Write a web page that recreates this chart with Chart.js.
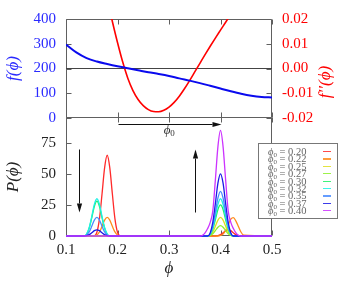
<!DOCTYPE html>
<html>
<head>
<meta charset="utf-8">
<script src="https://cdn.jsdelivr.net/npm/chart.js@4.4.1/dist/chart.umd.min.js"></script>
<style>
html,body{margin:0;padding:0;background:#fff;}
#wrap{position:relative;width:338px;height:281px;overflow:hidden;background:#fff;}
#wrap canvas{position:absolute;left:0;top:0;}
#y2title{position:absolute;left:325px;top:82px;transform:translate(-50%,-50%) rotate(-90deg);font:italic 17px 'Liberation Serif','DejaVu Serif',serif;color:#ff0000;white-space:nowrap;z-index:3;}
#legend{position:absolute;left:258px;top:143px;width:80px;height:76px;box-sizing:border-box;border:1px solid #777;background:#fff;z-index:3;padding-top:4px;}
.lrow{position:relative;height:7.4px;}
.lt{position:absolute;left:9px;top:0;font:10.5px 'Liberation Serif','DejaVu Serif',serif;line-height:7.4px;color:#666;white-space:nowrap;}
.lt i{font-style:italic;}
.lt sub{font-size:7px;vertical-align:-1.5px;line-height:0;}
.ls{position:absolute;left:64px;top:3px;width:8px;height:1.2px;opacity:0.85;}
</style>
</head>
<body>
<div id="wrap">
<canvas id="top" width="338" height="281"></canvas>
<canvas id="bot" width="338" height="281"></canvas>
<div id="y2title">f′′(ϕ)</div>
<div id="legend"></div>
</div>
<script>
// ---------- data: top panel ----------
const phiF = [0.10,0.12,0.14,0.16,0.18,0.20,0.22,0.24,0.26,0.28,0.30,0.32,0.34,0.36,0.38,0.40,0.42,0.44,0.46,0.48,0.50];
const fValues = [297,265,242,228,218,209,201,193,185,178,170,160,151,141,130,119,108,98,90,85,83];
const phiF2 = [0.185,0.19,0.20,0.21,0.22,0.23,0.24,0.25,0.26,0.27,0.28,0.29,0.30,0.31,0.32,0.33,0.34,0.35,0.36,0.37,0.38,0.39,0.40,0.41,0.42];
const f2Values = [0.0235,0.0190,0.0105,0.0027,-0.0039,-0.0089,-0.0125,-0.0150,-0.0166,-0.0174,-0.0175,-0.0169,-0.0156,-0.0137,-0.0112,-0.0082,-0.0049,-0.0014,0.0021,0.0056,0.0090,0.0123,0.0155,0.0187,0.0219];
const zeroPhi = [0.1,0.5];
const zeroLevel = [0,0];
const fTicks = [0,100,200,300,400];
const f2Ticks = [-0.02,-0.01,0,0.01,0.02];
const xTicks = [0.1,0.2,0.3,0.4,0.5];

// ---------- data: bottom panel ----------
const phiP = [0.10,0.135,0.14,0.145,0.15,0.155,0.16,0.165,0.17,0.175,0.18,0.185,0.19,0.195,0.20,0.205,
              0.355,0.36,0.365,0.37,0.375,0.38,0.385,0.39,0.395,0.40,0.405,0.41,0.415,0.42,0.425,0.43,0.435,0.44,0.445,0.50];
const p020 = [0,0,0,0,0,0,3,14,34,55,65,55,34,14,3,0, 0,0,0,0,0,0,0,0,0.3,1.1,2.6,4.3,5,4.3,2.6,1.1,0.3,0,0,0];
const p022 = [0,0,0,0,0,0,0.8,3.3,7.8,12.8,15,12.8,7.8,3.3,0.8,0, 0,0,0,0,0,0,0,0,0,0.4,1.5,4.5,9,13.5,14.8,12,7.5,3,0.7,0];
const p025 = [0,0,0,0,0,0,0,0,0,0,0,0,0,0,0,0, 0,0,0,0,0,0.8,3.3,7.8,12.8,15,12.8,7.8,3.3,0.8,0,0,0,0,0,0];
const p027 = [0,0,0,0,0,0,0,0,0,0,0,0,0,0,0,0, 0,0,0,0,0,0.4,1.8,4.3,7.1,8.3,7.1,4.3,1.8,0.4,0,0,0,0,0,0];
const p030 = [0,0,1.4,6.2,14.6,23.8,28,23.8,14.6,6.2,1.4,0,0,0,0,0, 0,0,0,0,0,1.3,5.5,13,21.3,25,21.3,13,5.5,1.3,0,0,0,0,0,0];
const p032 = [0,0,1.5,6.6,15.6,25.5,30,25.5,15.6,6.6,1.5,0,0,0,0,0, 0,0,0,0,0,1.5,6.6,15.6,25.5,30,25.5,15.6,6.6,1.5,0,0,0,0,0,0];
const p035 = [0,0,0.8,3.3,7.8,12.8,15,12.8,7.8,3.3,0.8,0,0,0,0,0, 0,0,0,0,0,1.8,7.9,18.7,30.6,36,30.6,18.7,7.9,1.8,0,0,0,0,0,0];
const p037 = [0,0,0.3,1.1,2.6,4.3,5,4.3,2.6,1.1,0.3,0,0,0,0,0, 0,0,0,0,0,2.5,11,26,42.5,50,42.5,26,11,2.5,0,0,0,0,0,0];
const p040 = [0,0,0,0,0,0,0,0,0,0,0,0,0,0,0,0, 0,0,0.5,2.5,6,11,20,45,72,85,72,45,20,11,6,2.5,0.5,0,0,0];
const pSeries = [p020,p022,p025,p027,p030,p032,p035,p037,p040];
const phi0Labels = ['0.20','0.22','0.25','0.27','0.30','0.32','0.35','0.37','0.40'];
const seriesColors = ['#ff2a2a','#ff8c1a','#dede1e','#8cf02a','#1ef064','#1ef0e6','#4a8cff','#1a1ae6','#cc33ff'];
const pTicks = [0,25,50,75];

// annotation anchors (data coordinates of bottom panel)
const arrowPhi0 = [0.2, 90.3, 0.4, 90.3];
const arrowDown = [0.125, 70, 0.125, 19];
const arrowUp = [0.35, 19, 0.35, 70];
const labelPhi0 = [0.3, 84.7];

const FONT = "'Liberation Serif','DejaVu Serif',serif";

const framePlugin = {
  id: 'frame',
  beforeDatasetsDraw(chart, args, o) {
    const {ctx, chartArea: a, scales} = chart;
    const L = 5;
    ctx.save();
    ctx.strokeStyle = '#606060'; ctx.lineWidth = 1;
    const l = Math.round(a.left) + 0.5, r = Math.round(a.right) - 0.5;
    const t = Math.round(a.top) + (o.noTop ? -0.5 : 0.5), b = Math.round(a.bottom) - 0.5;
    ctx.beginPath();
    ctx.moveTo(l, t); ctx.lineTo(l, b); ctx.lineTo(r, b); ctx.lineTo(r, t);
    if (!o.noTop) ctx.lineTo(l, t);
    o.xTicks.forEach(v => {
      const px = Math.round(scales.x.getPixelForValue(v)) + 0.5;
      ctx.moveTo(px, b); ctx.lineTo(px, b - L);
      ctx.moveTo(px, t); ctx.lineTo(px, t + L);
    });
    o.leftTicks.forEach(v => {
      const py = Math.round(scales[o.leftAxis].getPixelForValue(v)) + 0.5;
      ctx.moveTo(l, py); ctx.lineTo(l + L, py);
    });
    o.rightTicks.forEach(v => {
      const py = Math.round(scales[o.rightAxis].getPixelForValue(v)) + 0.5;
      ctx.moveTo(r, py); ctx.lineTo(r - L, py);
    });
    ctx.stroke();
    ctx.restore();
  }
};

function drawArrow(ctx, x1, y1, x2, y2) {
  const len = Math.hypot(x2 - x1, y2 - y1);
  const ux = (x2 - x1) / len, uy = (y2 - y1) / len;
  const hl = 9, hw = 2.6;
  ctx.beginPath();
  ctx.moveTo(x1, y1); ctx.lineTo(x2 - ux * hl, y2 - uy * hl);
  ctx.stroke();
  ctx.beginPath();
  ctx.moveTo(x2, y2);
  ctx.lineTo(x2 - ux * hl - uy * hw, y2 - uy * hl + ux * hw);
  ctx.lineTo(x2 - ux * hl + uy * hw, y2 - uy * hl - ux * hw);
  ctx.closePath();
  ctx.fill();
}

const annotPlugin = {
  id: 'annot',
  afterDatasetsDraw(chart, args, o) {
    const {ctx, scales: {x, y}} = chart;
    ctx.save();
    ctx.strokeStyle = '#111'; ctx.fillStyle = '#111'; ctx.lineWidth = 1;
    o.arrows.forEach(a => {
      const X1 = Math.round(x.getPixelForValue(a[0])) + 0.5, Y1 = Math.round(y.getPixelForValue(a[1])) + 0.5;
      const X2 = Math.round(x.getPixelForValue(a[2])) + 0.5, Y2 = Math.round(y.getPixelForValue(a[3])) + 0.5;
      drawArrow(ctx, X1, Y1, X2, Y2);
    });
    const lx = x.getPixelForValue(o.label[0]), ly = y.getPixelForValue(o.label[1]);
    ctx.fillStyle = '#333';
    ctx.textBaseline = 'middle';
    ctx.font = 'italic 13px ' + FONT;
    const w = ctx.measureText('ϕ').width;
    ctx.textAlign = 'left';
    ctx.fillText('ϕ', lx - w / 2 - 2, ly);
    ctx.font = '9px ' + FONT;
    ctx.fillText('0', lx + w / 2 - 2, ly + 3);
    ctx.restore();
  }
};

const baseTick = (color) => ({color: color, font: {family: FONT, size: 15}, padding: 10});
const noGrid = {display: false, drawTicks: false};

new Chart(document.getElementById('top'), {
  type: 'line',
  data: {datasets: [
    {data: phiF.map((p, i) => ({x: p, y: fValues[i]})), yAxisID: 'yF', borderColor: '#0a0aee', borderWidth: 2,
     pointRadius: 0, cubicInterpolationMode: 'monotone', order: 1},
    {data: phiF2.map((p, i) => ({x: p, y: f2Values[i]})), yAxisID: 'yF2', borderColor: '#ff0000', borderWidth: 1.6,
     pointRadius: 0, cubicInterpolationMode: 'monotone', order: 2},
    {data: zeroPhi.map((p, i) => ({x: p, y: zeroLevel[i]})), yAxisID: 'yF2', borderColor: '#444', borderWidth: 1,
     pointRadius: 0, order: 3}
  ]},
  options: {
    responsive: false, animation: false, devicePixelRatio: 1,
    layout: {padding: {top: 15, bottom: 163, left: 0, right: 0}},
    plugins: {
      legend: {display: false}, tooltip: {enabled: false},
      frame: {xTicks: xTicks, leftAxis: 'yF', rightAxis: 'yF2', leftTicks: fTicks, rightTicks: f2Ticks}
    },
    scales: {
      x: {type: 'linear', min: 0.1, max: 0.5, ticks: {display: false}, grid: noGrid, border: {display: false},
          afterFit: s => { s.height = 0; }},
      yF: {position: 'left', min: 0, max: 400,
           afterBuildTicks: s => { s.ticks = fTicks.map(v => ({value: v})); },
           ticks: Object.assign(baseTick('#2a2aff'), {callback: v => String(v)}),
           grid: noGrid, border: {display: false},
           title: {display: true, text: 'f(ϕ)', color: '#2a2aff', font: {family: FONT, size: 17, style: 'italic'}, padding: {top: 3, bottom: 0}},
           afterFit: s => { s.width = 66; }},
      yF2: {position: 'right', min: -0.02, max: 0.02,
            afterBuildTicks: s => { s.ticks = f2Ticks.map(v => ({value: v})); },
            ticks: Object.assign(baseTick('#ff0000'), {callback: v => v.toFixed(2)}),
            grid: noGrid, border: {display: false},
            afterFit: s => { s.width = 66; }}
    }
  },
  plugins: [framePlugin]
});

new Chart(document.getElementById('bot'), {
  type: 'line',
  data: {datasets: phi0Labels.map((lab, i) => ({
    label: 'ϕ0 = ' + lab,
    data: phiP.map((p, k) => ({x: p, y: pSeries[i][k]})),
    borderColor: seriesColors[i], borderWidth: 1.3, pointRadius: 0,
    cubicInterpolationMode: 'monotone', order: phi0Labels.length - i, clip: 3
  }))},
  options: {
    responsive: false, animation: false, devicePixelRatio: 1,
    layout: {padding: {top: 118, bottom: 0, left: 0, right: 66}},
    plugins: {
      legend: {display: false}, tooltip: {enabled: false},
      frame: {xTicks: xTicks, leftAxis: 'y', rightAxis: 'y', leftTicks: pTicks, rightTicks: pTicks, noTop: true},
      annot: {arrows: [arrowPhi0, arrowDown, arrowUp], label: labelPhi0}
    },
    scales: {
      x: {type: 'linear', min: 0.1, max: 0.5,
          afterBuildTicks: s => { s.ticks = xTicks.map(v => ({value: v})); },
          ticks: {color: '#222', font: {family: FONT, size: 15}, padding: 5, maxRotation: 0, autoSkip: false,
                  callback: v => v.toFixed(1)},
          grid: noGrid, border: {display: false},
          title: {display: true, text: 'ϕ', color: '#222', font: {family: FONT, size: 17, style: 'italic'}, padding: {top: 0, bottom: 2}},
          afterFit: s => { s.height = 45; }},
      y: {position: 'left', min: 0, max: 95,
          afterBuildTicks: s => { s.ticks = pTicks.map(v => ({value: v})); },
          ticks: Object.assign(baseTick('#222'), {callback: v => String(v)}),
          grid: noGrid, border: {display: false},
          title: {display: true, text: 'P(ϕ)', color: '#222', font: {family: FONT, size: 17, style: 'italic'}, padding: {top: 3, bottom: 0}},
          afterFit: s => { s.width = 66; }}
    }
  },
  plugins: [framePlugin, annotPlugin]
});

// legend (HTML, built from the series arrays)
const leg = document.getElementById('legend');
phi0Labels.forEach((lab, i) => {
  const row = document.createElement('div');
  row.className = 'lrow';
  row.innerHTML = '<span class="lt"><i>ϕ</i><sub>0</sub> = ' + lab + '</span><span class="ls" style="background:' + seriesColors[i] + '"></span>';
  leg.appendChild(row);
});
</script>
</body>
</html>
